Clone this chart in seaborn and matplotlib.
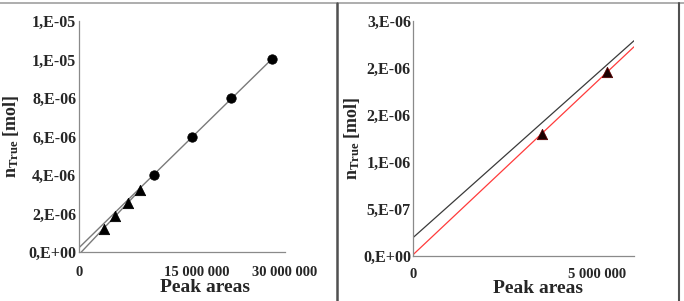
import math
import matplotlib
matplotlib.use('Agg')
import matplotlib.pyplot as plt
import matplotlib.transforms as mtransforms
from matplotlib.lines import Line2D
import numpy as np
import pandas as pd
import seaborn as sns

# values
left_circle_x = [10.9e6, 16.5e6, 22.2e6, 28.1e6]
left_circle_y = [4.0e-6, 6.0e-6, 8.0e-6, 1.0e-5]
left_tri_x = [3.6e6, 5.3e6, 7.1e6, 8.9e6]
left_tri_y = [1.22e-6, 1.88e-6, 2.56e-6, 3.22e-6]

right_tri_x = [3.49e6, 5.28e6]
right_tri_y = [1.30e-6, 1.96e-6]
# black reference line in the right panel (end points)
right_ref_x = [0, 6.0e6]
right_ref_y = [1.95e-7, 2.29e-6]

left_xticks = [0, 15e6, 30e6]
left_yticks = [0, 2e-6, 4e-6, 6e-6, 8e-6, 1e-5, 1.2e-5]
right_xticks = [0, 5e6]
right_yticks = [0, 5e-7, 1e-6, 1.5e-6, 2e-6, 2.5e-6]

sns.set_style('white')
plt.rcParams['font.family'] = ['Liberation Serif', 'DejaVu Serif']
plt.rcParams['font.weight'] = 'bold'
plt.rcParams['mathtext.fontset'] = 'custom'
plt.rcParams['mathtext.rm'] = 'Liberation Serif'
plt.rcParams['mathtext.bf'] = 'Liberation Serif:bold'
plt.rcParams['mathtext.it'] = 'Liberation Serif:italic'

W, H = 684, 301


def excel_sci(v, pos=None):
    # mimic Excel "0,E+00" format (half-up rounding)
    if v == 0:
        return '0,E+00'
    e = math.floor(math.log10(abs(v)) + 1e-9)
    m = int(v / 10**e + 0.5 + 1e-9)
    if m == 10:
        m, e = 1, e + 1
    sign = '-' if e < 0 else '+'
    return '%d,E%s%02d' % (m, sign, abs(e))


def spaced(v, pos=None):
    return f'{int(round(v)):,}'.replace(',', ' ')


def fit_line(xs, ys, x_end):
    k, b = np.polyfit(xs, ys, 1)
    xx = np.array([0, x_end])
    return pd.DataFrame({'x': xx, 'y': k * xx + b})


def style_axes(ax, xticks, yticks, xpad, ypad):
    for s in ['top', 'right']:
        ax.spines[s].set_visible(False)
    for s in ['left', 'bottom']:
        ax.spines[s].set_color('#8a8a8a')
        ax.spines[s].set_linewidth(0.9)
    ax.set_xticks(xticks)
    ax.set_yticks(yticks)
    ax.xaxis.set_major_formatter(spaced)
    ax.yaxis.set_major_formatter(excel_sci)
    ax.tick_params(axis='x', length=0, pad=xpad, labelsize=10.5)
    ax.tick_params(axis='y', length=0, pad=ypad, labelsize=11.5)
    for lab in ax.get_xticklabels() + ax.get_yticklabels():
        lab.set_fontweight('bold')
    ax.grid(False)


fig = plt.figure(figsize=(W / 100, H / 100), dpi=100)

# left panel
ax1 = fig.add_axes([79 / W, 1 - 252 / H, 206 / W, 231 / H])
circ = pd.DataFrame({'x': left_circle_x, 'y': left_circle_y})
tri = pd.DataFrame({'x': left_tri_x, 'y': left_tri_y})
sns.lineplot(data=fit_line(left_circle_x, left_circle_y, max(left_circle_x)), x='x', y='y',
             ax=ax1, color='#7a7a7a', lw=1.0)
sns.lineplot(data=fit_line(left_tri_x, left_tri_y, max(left_tri_x)), x='x', y='y',
             ax=ax1, color='#7a7a7a', lw=1.0)
sns.scatterplot(data=circ, x='x', y='y', ax=ax1, marker='o', s=46, color='black',
                edgecolor='black', zorder=3)
sns.scatterplot(data=tri, x='x', y='y', ax=ax1, marker='^', s=55, color='black',
                edgecolor='black', zorder=3)
ax1.set_xlim(0, 30e6)
ax1.set_ylim(0, 1.2e-5)
style_axes(ax1, left_xticks, left_yticks, xpad=10, ypad=2)

# right panel
ax2 = fig.add_axes([413 / W, 1 - 256 / H, 221 / W, 235 / H])
tri2 = pd.DataFrame({'x': right_tri_x, 'y': right_tri_y})
ref = pd.DataFrame({'x': right_ref_x, 'y': right_ref_y})
sns.lineplot(data=ref, x='x', y='y', ax=ax2, color='#3a3a3a', lw=0.9)
sns.lineplot(data=fit_line(right_tri_x, right_tri_y, 6.0e6), x='x', y='y',
             ax=ax2, color='#ff3b3b', lw=0.9)
sns.scatterplot(data=tri2, x='x', y='y', ax=ax2, marker='^', s=55, color='#1a0000',
                edgecolor='#5a0000', zorder=3)
ax2.set_xlim(0, 6.0e6)
ax2.set_ylim(0, 2.5e-6)
style_axes(ax2, right_xticks, right_yticks, xpad=9, ypad=1.5)

ylab = r'$\mathbf{n}_{\mathbf{True}}$ [mol]'
for ax, xlx, xly, ylx in [(ax1, 0.61, -0.118, -0.33), (ax2, 0.565, -0.103, -0.276)]:
    ax.set_xlabel('Peak areas', fontsize=14, fontweight='bold')
    ax.xaxis.label.set_va('top')
    ax.xaxis.set_label_coords(xlx, xly)
    ax.set_ylabel(ylab, fontsize=13, fontweight='bold')
    ax.yaxis.label.set_va('center')
    ax.yaxis.set_label_coords(ylx, 0.5)

# the middle label on the left x-axis sits a bit to the right in the reference
fig.canvas.draw()
mid = ax1.xaxis.get_major_ticks()[1].label1
mid.set_transform(mid.get_transform() + mtransforms.ScaledTranslation(0.15, 0, fig.dpi_scale_trans))

# frame lines around the panels
fig.add_artist(Line2D([0, 1], [1 - 2.5 / H] * 2, color='#a0a0a0', lw=1.2))
fig.add_artist(Line2D([337 / W] * 2, [0, 1 - 2.5 / H], color='#505050', lw=1.8))
fig.add_artist(Line2D([679 / W] * 2, [0, 1 - 2.5 / H], color='#505050', lw=1.5))

fig.savefig('out.png', dpi=100)
